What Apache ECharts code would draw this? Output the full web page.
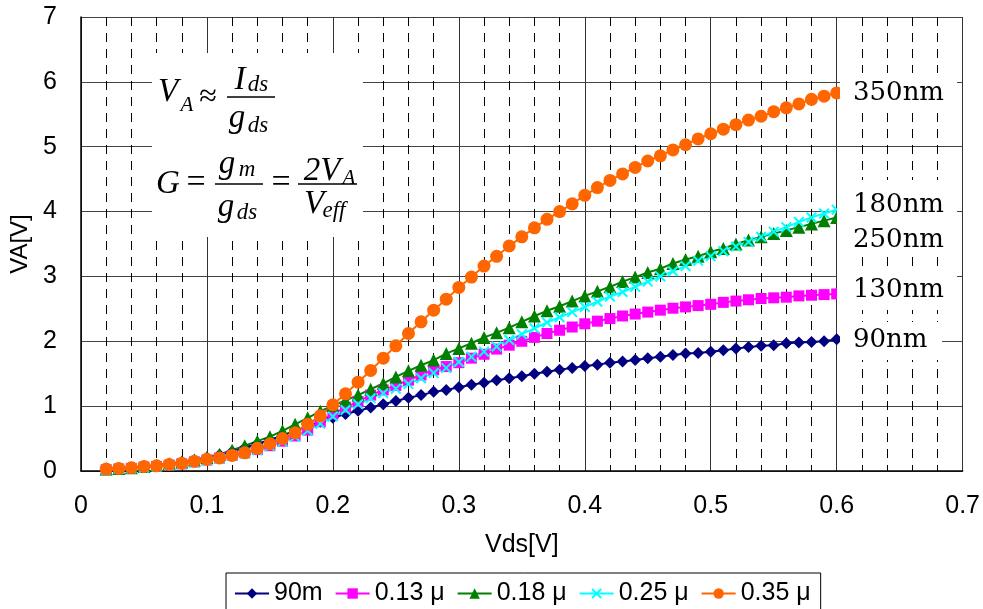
<!DOCTYPE html>
<html><head><meta charset="utf-8">
<script src="https://cdn.jsdelivr.net/npm/echarts@6/dist/echarts.min.js"></script>
<style>html,body{margin:0;padding:0;background:#fff}#c{width:983px;height:609px}</style>
</head><body><div id="c"></div>
<script>
const vds = [0.02,0.03,0.04,0.05,0.06,0.07,0.08,0.09,0.10,0.11,0.12,0.13,0.14,0.15,0.16,0.17,0.18,0.19,0.20,
  0.21,0.22,0.23,0.24,0.25,0.26,0.27,0.28,0.29,0.30,0.31,0.32,0.33,0.34,0.35,0.36,0.37,0.38,0.39,0.40,
  0.41,0.42,0.43,0.44,0.45,0.46,0.47,0.48,0.49,0.50,0.51,0.52,0.53,0.54,0.55,0.56,0.57,0.58,0.59,0.60];
const va90 = [0.03,0.04,0.05,0.07,0.09,0.11,0.14,0.17,0.21,0.25,0.30,0.36,0.42,0.48,0.55,0.62,0.69,0.76,0.82,
  0.88,0.93,0.98,1.03,1.08,1.13,1.17,1.22,1.25,1.29,1.33,1.36,1.40,1.43,1.46,1.50,1.53,1.56,1.59,1.62,
  1.64,1.67,1.69,1.71,1.74,1.76,1.79,1.81,1.82,1.84,1.86,1.89,1.91,1.93,1.94,1.97,1.98,1.99,2.00,2.03];
const va130 = [0.02,0.03,0.04,0.06,0.07,0.09,0.11,0.14,0.17,0.20,0.24,0.28,0.33,0.39,0.46,0.54,0.63,0.76,0.88,
  0.98,1.07,1.17,1.25,1.32,1.40,1.48,1.56,1.61,1.67,1.74,1.80,1.88,1.94,2.00,2.06,2.12,2.17,2.22,2.27,
  2.31,2.35,2.39,2.42,2.45,2.48,2.51,2.53,2.55,2.57,2.60,2.62,2.64,2.66,2.67,2.68,2.70,2.71,2.72,2.73];
const va180 = [0.03,0.04,0.05,0.07,0.09,0.11,0.14,0.17,0.21,0.26,0.32,0.39,0.46,0.53,0.62,0.72,0.82,0.92,1.01,
  1.09,1.17,1.26,1.35,1.45,1.545,1.63,1.71,1.81,1.89,1.97,2.06,2.13,2.21,2.30,2.39,2.47,2.54,2.62,2.70,
  2.77,2.84,2.92,2.99,3.06,3.12,3.20,3.26,3.31,3.38,3.43,3.50,3.56,3.61,3.66,3.71,3.76,3.81,3.86,3.91];
const va250 = [0.02,0.03,0.04,0.05,0.07,0.09,0.11,0.13,0.16,0.19,0.23,0.27,0.32,0.38,0.45,0.53,0.62,0.73,0.84,
  0.94,1.03,1.12,1.20,1.27,1.34,1.43,1.51,1.59,1.68,1.76,1.84,1.92,2.02,2.11,2.20,2.29,2.37,2.45,2.53,
  2.61,2.69,2.76,2.84,2.92,3.00,3.08,3.16,3.24,3.31,3.39,3.46,3.53,3.61,3.69,3.76,3.84,3.91,3.97,4.03];
const va350 = [0.03,0.04,0.05,0.07,0.08,0.10,0.12,0.15,0.18,0.20,0.24,0.28,0.35,0.42,0.50,0.59,0.72,0.85,1.02,
  1.19,1.37,1.55,1.74,1.93,2.12,2.30,2.48,2.65,2.83,2.99,3.16,3.31,3.47,3.61,3.75,3.88,4.00,4.12,4.25,
  4.37,4.48,4.58,4.68,4.78,4.86,4.95,5.03,5.12,5.20,5.27,5.34,5.41,5.47,5.54,5.60,5.66,5.73,5.78,5.83];
const seriesNames = ['90m','0.13 μ','0.18 μ','0.25 μ','0.35 μ'];
const endLabels = ['350nm','180nm','250nm','130nm','90nm'];
const xTicks = [0,0.1,0.2,0.3,0.4,0.5,0.6,0.7];
const yTicks = [0,1,2,3,4,5,6,7];

const chart = echarts.init(document.getElementById('c'));
const pair = arr => vds.map((x,i)=>[x,arr[i]]);
const xShape = 'path://M0,1.3L1.3,0L10,8.7L8.7,10Z M8.7,0L10,1.3L1.3,10L0,8.7Z';
const SANS = 'Liberation Sans, Arial, sans-serif';
const SERIF = 'Liberation Serif, Times New Roman, serif';

function T(text, x, y, size, italic) {
  return {type:'text', x:x, y:y, z:110,
    style:{text:text, font:(italic?'italic ':'')+size+'px '+SERIF, fill:'#000',
      align:'center', verticalAlign:'middle'}};
}
function L(x1,x2,y){ return {type:'line', z:110, shape:{x1:x1,y1:y,x2:x2,y2:y}, style:{stroke:'#000', lineWidth:1.4}}; }
function R(x,y,w,h){ return {type:'rect', z:105, shape:{x:x,y:y,width:w,height:h}, style:{fill:'#fff'}}; }
function LB(text, x, y){ return {type:'text', x:x, y:y, z:110,
    style:{text:text, font:'26px DejaVu Serif, serif', fill:'#000', align:'left', verticalAlign:'middle'}}; }

const mk = (name, data, color, symbol, size) => ({
  name:name, type:'line', data:pair(data), symbol:symbol, symbolSize:size,
  lineStyle:{color:color, width:2}, itemStyle:{color:color}, color:color, animation:false
});

chart.setOption({
  animation:false,
  grid:{left:81, right:17, top:17, bottom:138, containLabel:false},
  xAxis:{type:'value', min:xTicks[0], max:xTicks[xTicks.length-1], interval:0.1,
    name:'Vds[V]', nameLocation:'middle', nameGap:62,
    nameTextStyle:{fontFamily:SANS, fontSize:25, color:'#000'},
    axisLine:{show:true, onZero:false, lineStyle:{color:'#000', width:1.5}},
    axisTick:{show:false},
    axisLabel:{fontFamily:SANS, fontSize:25, color:'#000', margin:23},
    splitLine:{show:true, lineStyle:{color:'#333', width:1}},
    minorTick:{show:false, splitNumber:5},
    minorSplitLine:{show:true, lineStyle:{color:'#000', width:1, type:[9,7]}}
  },
  yAxis:{type:'value', min:yTicks[0], max:yTicks[yTicks.length-1], interval:1,
    name:'VA[V]', nameLocation:'middle', nameGap:46,
    nameTextStyle:{fontFamily:SANS, fontSize:24, color:'#000'},
    axisLine:{show:true, lineStyle:{color:'#000', width:1.5}},
    axisTick:{show:false},
    axisLabel:{fontFamily:SANS, fontSize:25, color:'#000', margin:24},
    splitLine:{show:true, lineStyle:{color:'#444', width:1}}
  },
  legend:{left:226, top:573, orient:'horizontal', data:seriesNames,
    borderColor:'#000', borderWidth:1, padding:[8,10,12,8], itemGap:12,
    itemWidth:34, itemHeight:13,
    textStyle:{fontFamily:SANS, fontSize:25, color:'#000'}},
  series:[
    mk(seriesNames[0], va90, '#000080', 'diamond', 12),
    mk(seriesNames[1], va130, '#FF00FF', 'rect', 11),
    mk(seriesNames[2], va180, '#008000', 'triangle', 13),
    mk(seriesNames[3], va250, '#00FFFF', xShape, 11),
    mk(seriesNames[4], va350, '#FF6600', 'circle', 13)
  ],
  graphic:[
    R(152,53,211,184),
    T('V',168,92,33,true), T('A',187,105,21,true), T('≈',208,98,32,false),
    T('I',240,80,33,true), T('ds',258,85,23,true), L(227,275,97),
    T('g',237,118,33,true), T('ds',258,126,23,true),
    T('G',168,184,33,true), T('=',196,183,34,false),
    T('g',227,164,33,true), T('m',247,170,23,true), L(215,263,184),
    T('g',226,207,33,true), T('ds',247,213,23,true),
    T('=',281,183,34,false),
    T('2V',322,171,33,true), T('A',349,178,21,true), L(298,357,184),
    T('V',314,204,33,true), T('eff',334,211,23,true),
    R(840,73,117,40), R(837,180,120,77), R(837,268,120,42), R(840,322,102,38),
    LB(endLabels[0],853,93), LB(endLabels[1],853,205), LB(endLabels[2],853,240),
    LB(endLabels[3],853,290), LB(endLabels[4],853,340)
  ]
});
</script></body></html>
